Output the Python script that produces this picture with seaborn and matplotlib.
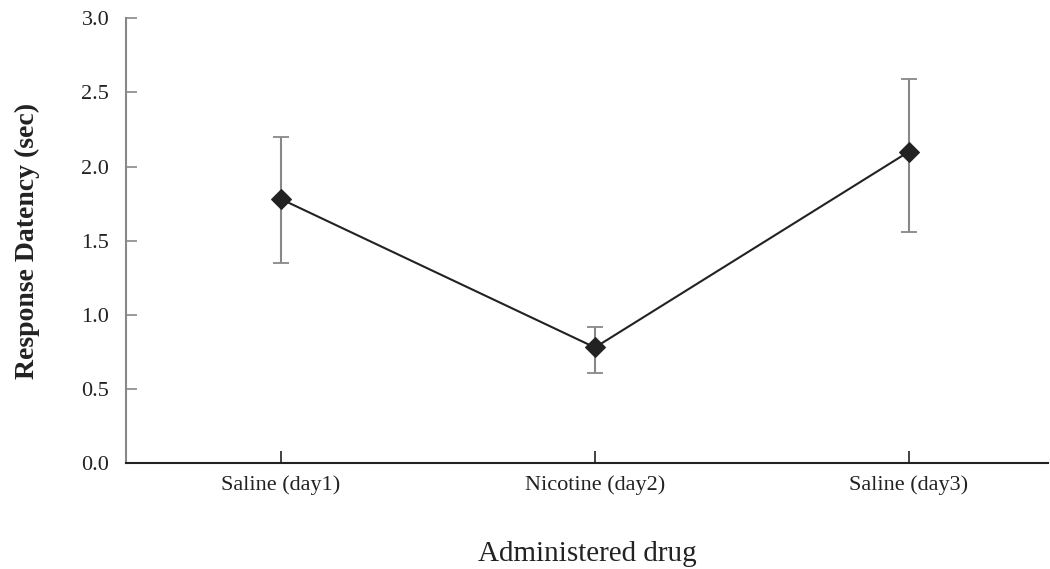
import matplotlib
matplotlib.use("Agg")
import matplotlib.pyplot as plt
import seaborn as sns
import pandas as pd
import numpy as np

categories = ["Saline (day1)", "Nicotine (day2)", "Saline (day3)"]
means = [1.78, 0.78, 2.10]
err_upper = [2.20, 0.92, 2.59]
err_lower = [1.35, 0.61, 1.56]
y_ticks = [0.0, 0.5, 1.0, 1.5, 2.0, 2.5, 3.0]

sns.set_theme(style="white")
plt.rcParams["font.family"] = ["Liberation Serif", "DejaVu Serif"]

df = pd.DataFrame({"pos": np.arange(len(categories)), "drug": categories, "mean": means})

fig = plt.figure(figsize=(10.5, 5.69), dpi=100)
ax = fig.add_axes([0.12, 0.186, 0.878, 0.782])

dark = "#222222"
gray = "#888888"

yerr = np.array([np.array(means) - np.array(err_lower), np.array(err_upper) - np.array(means)])
eb = ax.errorbar(df["pos"], df["mean"], yerr=yerr, fmt="none", ecolor=gray, elinewidth=1.5,
                 capsize=5.5, capthick=1.3, zorder=2)
for cap in eb[1]:
    cap.set_color("#444444")

sns.lineplot(data=df, x="pos", y="mean", ax=ax, color=dark, linewidth=1.5, marker="D",
             markersize=10, markeredgecolor=dark, markerfacecolor=dark, zorder=3)

ax.set_xlim(-0.494, 2.443)
ax.set_ylim(0, 3.0)
ax.set_yticks(y_ticks)
ax.set_yticklabels([f"{v:.1f}" for v in y_ticks])
ax.set_xticks(df["pos"])
ax.set_xticklabels(categories)

for s in ["top", "right"]:
    ax.spines[s].set_visible(False)
ax.spines["left"].set_color(gray)
ax.spines["left"].set_linewidth(1.5)
ax.spines["bottom"].set_color(dark)
ax.spines["bottom"].set_linewidth(1.5)

ax.tick_params(axis="y", direction="in", length=8, width=1.2, color=gray, pad=12,
               labelsize=16, labelcolor=dark, left=True)
ax.tick_params(axis="x", direction="in", length=9, width=1.2, color=dark, pad=9,
               labelsize=16, labelcolor=dark, bottom=True)

ax.set_xlabel("Administered drug", fontsize=21, color=dark, labelpad=33)
ax.set_ylabel("Response Datency (sec)", fontsize=20, fontweight="bold", color=dark, labelpad=30)

fig.savefig("out.png", dpi=100)
